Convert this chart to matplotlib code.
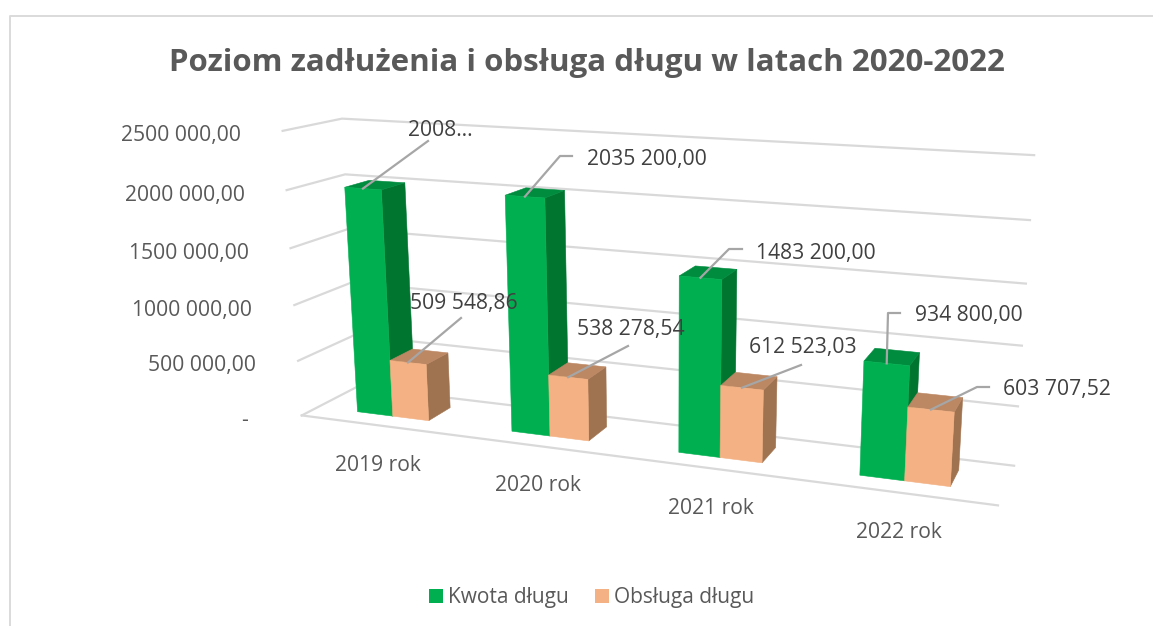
import matplotlib
matplotlib.use('Agg')
import matplotlib.pyplot as plt
from matplotlib.patches import Patch, Polygon
import numpy as np

title = 'Poziom zadłużenia i obsługa długu w latach 2020-2022'
categories = ['2019 rok', '2020 rok', '2021 rok', '2022 rok']
debt = [2008000.00, 2035200.00, 1483200.00, 934800.00]
service = [509548.86, 538278.54, 612523.03, 603707.52]
debt_labels = ['2008…', '2035 200,00', '1483 200,00', '934 800,00']
service_labels = ['509 548,86', '538 278,54', '612 523,03', '603 707,52']
ticks = [0, 500000, 1000000, 1500000, 2000000, 2500000]
tick_labels = ['-', '500 000,00', '1000 000,00', '1500 000,00', '2000 000,00',
               '2500 000,00']
series_names = ['Kwota długu', 'Obsługa długu']

# label anchors in pixels: line elbow (or None), line end, text left, text y
debt_anchor = [(None, (428, 141), 408, 130), ((560, 156), (572, 156), 587, 160),
               ((729, 249), (742, 249), 756, 253), ((888, 313), (900, 313), 915, 316)]
service_anchor = [(None, (461, 318), 410, 303), (None, (628, 346), 577, 330),
                  (None, (801, 365), 749, 348), ((977, 387), (989, 387), 1003, 390)]

FONT = 'Open Sans'
GRID = '#D9D9D9'
LEADER = '#A6A6A6'
GREEN = ('#00B050', '#007530', '#008C3F')
ORANGE = ('#F4B183', '#A07350', '#BC8763')
DEPTH = (0.29, 0.72)

# camera for the 3D look: (category, depth, value share) -> pixel, fitted on the box corners
front_left = [(302, 416), (298, 360), (294, 304), (290, 248), (287, 191), (283, 131)]
back_left = [(358, 387), (353, 335), (352, 283), (348, 230), (345, 174), (342, 118)]
back_right = [(1014, 465), (1018, 406), (1022, 346), (1026, 284), (1030, 220), (1034, 155)]
front_right_floor = (998, 506)


def fit_camera():
    rows, rhs = [], []
    pts = []
    for k in range(6):
        pts.append(((0, 0, k / 5), front_left[k]))
        pts.append(((0, 1, k / 5), back_left[k]))
        pts.append(((1, 1, k / 5), back_right[k]))
    pts.append(((1, 0, 0), front_right_floor))
    for (a, b, c), (x, y) in pts:
        rows.append([a, b, c, 1, 0, 0, 0, 0, -x * a, -x * b, -x * c])
        rhs.append(x)
        rows.append([0, 0, 0, 0, a, b, c, 1, -y * a, -y * b, -y * c])
        rhs.append(y)
    sol = np.linalg.lstsq(np.array(rows, float), np.array(rhs, float), rcond=None)[0]
    return np.append(sol, 1).reshape(3, 4)


camera = fit_camera()


def project(u, d, value):
    p = camera @ np.array([u, d, value / ticks[-1], 1])
    return p[0] / p[2], p[1] / p[2]


def draw_bar(ax, u0, u1, value, colors, zorder):
    d0, d1 = DEPTH
    front = [project(u0, d0, 0), project(u1, d0, 0), project(u1, d0, value), project(u0, d0, value)]
    side = [project(u1, d0, 0), project(u1, d1, 0), project(u1, d1, value), project(u1, d0, value)]
    top = [project(u0, d0, value), project(u1, d0, value), project(u1, d1, value), project(u0, d1, value)]
    for poly, col in zip((side, top, front), (colors[1], colors[2], colors[0])):
        ax.add_patch(Polygon(poly, closed=True, facecolor=col, edgecolor=col, lw=0.4, zorder=zorder))


def draw_label(ax, start, anchor, text):
    elbow, end, tx, ty = anchor
    pts = [start] + ([elbow] if elbow else []) + [end]
    ax.plot([p[0] for p in pts], [p[1] for p in pts], color=LEADER, lw=1.6, zorder=20)
    ax.text(tx, ty, text, fontsize=15.2, color='#404040', ha='left', va='center',
            family=FONT, zorder=21)


fig = plt.figure(figsize=(11.53, 6.26), dpi=100)
ax = fig.add_axes([0, 0, 1, 1])
ax.set_xlim(0, 1153)
ax.set_ylim(626, 0)
ax.axis('off')

# chart frame
ax.plot([10, 10, 1153], [626, 15.5, 15.5], color='#DADADA', lw=1.4, zorder=1)

# walls and floor
for t in ticks:
    pts = [project(0, 0, t), project(0, 1, t), project(1, 1, t)]
    ax.plot([p[0] for p in pts], [p[1] for p in pts], color=GRID, lw=1.6, zorder=2)
    x, y = pts[0]
    ax.text(x - (54 if t == 0 else 42), y + 5, tick_labels[ticks.index(t)], fontsize=15.2,
            color='#595959', ha='right', va='center', family=FONT)
p0, p1 = project(0, 0, 0), project(1, 0, 0)
ax.plot([p0[0], p1[0]], [p0[1], p1[1]], color=GRID, lw=1.6, zorder=2)

n = len(categories)
group = 0.47 / n
for i in range(n):
    mid = (i + 0.5) / n
    draw_bar(ax, mid - group / 2, mid, debt[i], GREEN, 5 + 2 * i)
    draw_bar(ax, mid, mid + group / 2, service[i], ORANGE, 6 + 2 * i)
    top_debt = project(mid - group / 4, DEPTH[0], debt[i])
    top_service = project(mid + group / 4, DEPTH[0], service[i])
    draw_label(ax, top_debt, debt_anchor[i], debt_labels[i])
    draw_label(ax, top_service, service_anchor[i], service_labels[i])
    x, y = project(mid, 0, 0)
    ax.text(x + 1, y + 40, categories[i], fontsize=15.2, color='#595959', ha='center',
            va='center', family=FONT)

ax.text(587, 62.5, title, fontsize=22.5, fontweight='bold', color='#595959', ha='center',
        va='center', family=FONT)

handles = [Patch(facecolor=GREEN[0], edgecolor='none', label=series_names[0]),
           Patch(facecolor=ORANGE[0], edgecolor='none', label=series_names[1])]
ax.legend(handles=handles, loc='center', bbox_to_anchor=(591.5, 598), bbox_transform=ax.transData,
          frameon=False, ncol=2, handlelength=0.68, handleheight=0.68, handletextpad=0.25,
          columnspacing=1.25, prop={'family': FONT, 'size': 15}, labelcolor='#595959')

fig.savefig('out.png', dpi=100)
